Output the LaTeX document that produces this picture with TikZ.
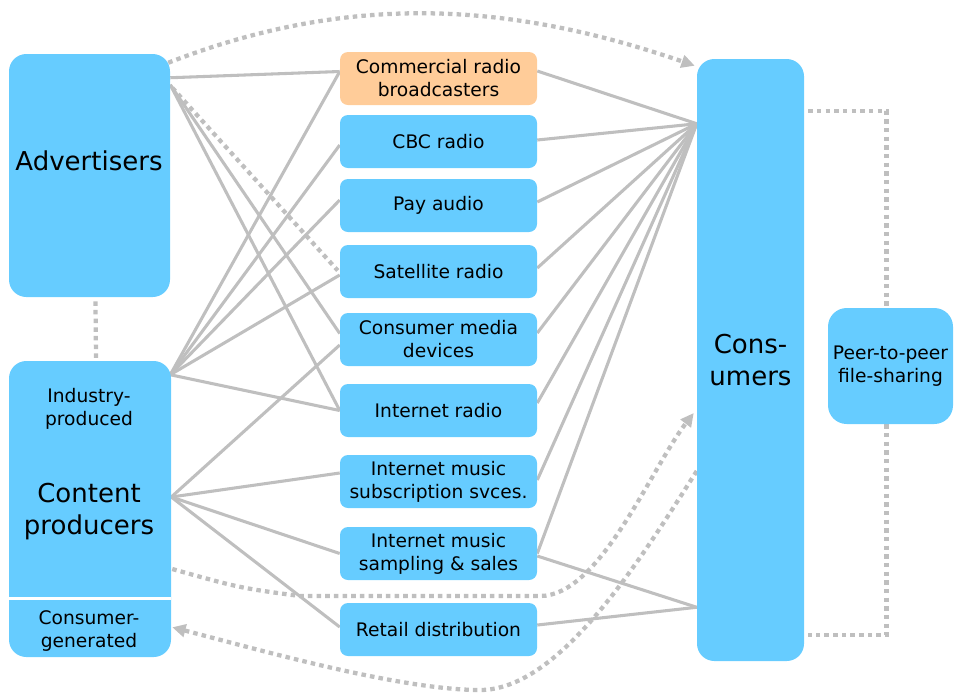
\documentclass[tikz,border=0pt]{standalone}
\usepackage{fontspec}
\setmainfont{DejaVu Sans}
\usetikzlibrary{arrows.meta,calc}
\definecolor{boxblue}{HTML}{66CCFF}
\definecolor{boxorange}{HTML}{FFCC99}
\definecolor{linegray}{HTML}{BFBFBF}
\pgfdeclarelayer{bg}
\pgfsetlayers{bg,main}
\begin{document}
\begin{tikzpicture}[x=0.75pt,y=-0.75pt,
  box/.style={fill=boxblue, draw=none, inner sep=1pt, align=center, font=\fontsize{14}{17.25}\selectfont},
  midbox/.style={box, minimum width=147.75pt, minimum height=39.75pt, rounded corners=6pt},
  bigbox/.style={box, rounded corners=13pt},
  bigtext/.style={align=center, font=\fontsize{19.5}{24}\selectfont, inner sep=0pt},
  smalltext/.style={align=center, font=\fontsize{14}{17.25}\selectfont, inner sep=0pt},
  conn/.style={draw=linegray, line width=2.3pt},
  dotconn/.style={draw=linegray, line width=3.2pt, dash pattern=on 3.4pt off 3.1pt},
  tip/.style={-{Triangle[length=10pt,width=9.5pt]}}
]
\useasboundingbox (0,0) rectangle (959,694);

% left boxes
\node[bigbox, minimum width=120.75pt, minimum height=182.25pt] (adv) at (89.5,175.5) {};
\node[bigtext] (advt) at (89,161) {Advertisers};
\node[bigbox, minimum width=121.5pt, minimum height=222pt] (cp) at (90,509) {};
\draw[white, line width=2.5pt] ($(cp.south west)+(0,-59)$) -- ($(cp.south east)+(0,-59)$);
\node[smalltext] (ind) at (89,409) {Industry-\\produced};
\node[bigtext] (cpt) at (89,512) {Content\\producers};
\node[smalltext] (cg) at (89,631) {Consumer-\\generated};

% middle boxes
\node[midbox, fill=boxorange] (cr) at (438.5,78.5) {Commercial radio\\broadcasters};
\node[midbox] (cbc) at (438.5,141.5) {CBC radio};
\node[midbox] (pay) at (438.5,205.5) {Pay audio};
\node[midbox] (sat) at (438.5,271.5) {Satellite radio};
\node[midbox] (cmd) at (438.5,339.5) {Consumer media\\devices};
\node[midbox] (ir) at (438.5,410.5) {Internet radio};
\node[midbox] (ims) at (438.5,481.5) {Internet music\\subscription svces.};
\node[midbox] (imsa) at (438.5,553.5) {Internet music\\sampling \& sales};
\node[midbox] (rd) at (438.5,629.5) {Retail distribution};

% right boxes
\node[bigbox, minimum width=80.25pt, minimum height=451.5pt, font=\fontsize{19.5}{24}\selectfont] (cons) at (750.5,360) {Cons-\\umers};
\node[bigbox, minimum width=93.75pt, minimum height=87pt, rounded corners=14pt] (p2p) at (890.5,366) {Peer-to-peer\\file-sharing};

\begin{pgfonlayer}{bg}
\coordinate (aA) at ($(adv.north east)+(0,24)$);
\coordinate (aB) at ($(adv.north east)+(0,31)$);
\coordinate (aC) at ($(adv.north east)+(2,34)$);
\coordinate (aD) at ($(adv.north east)+(-2,9)$);
\coordinate (cA) at ($(cp.north east)+(-1,14)$);
\coordinate (cB) at ($(cp.east)+(0,-12)$);
\coordinate (cC) at ($(cp.east)+(1,60)$);
\coordinate (cD) at ($(cp.south east)+(1,-30)$);
\coordinate (kA) at ($(cons.north west)+(0,65)$);
\coordinate (kB) at ($(cons.south west)+(0,-54)$);
\coordinate (kC) at ($(cons.west)+(-3,53)$);
\coordinate (kD) at ($(cons.west)+(0,111)$);
\coordinate (kE) at ($(cons.north west)+(-2,7)$);

% advertisers
\draw[conn] (aA) -- ($(cr.west)+(0,-7)$);
\draw[conn] (aB) -- ($(cmd.west)+(0,-6)$);
\draw[conn] (aB) -- (ir.west);
\draw[dotconn] (aC) -- ($(sat.west)+(-2,-1)$);

% content producers
\foreach \t/\dy in {cr/-7, cbc/3.5, pay/-5.5, sat/3.5, ir/0}
  \draw[conn] (cA) -- ($(\t.west)+(0,\dy)$);
\foreach \t/\dy in {cmd/5.5, ims/-8.5, imsa/0, rd/-2.5}
  \draw[conn] (cB) -- ($(\t.west)+(0,\dy)$);

% consumers
\foreach \t/\dy in {cr/-7.5, cbc/-1.5, pay/-3.5, sat/-3.5, cmd/-6.5, ir/-7.5, ims/-1.5, imsa/0}
  \draw[conn] ($(\t.east)+(0,\dy)$) -- (kA);
\draw[conn] ($(imsa.east)+(0,2.5)$) -- (kB);
\draw[conn] ($(rd.east)+(0,-4.5)$) -- (kB);

% dotted
\draw[dotconn, tip] (aD) .. controls (350,-8) and (510,2) .. (kE);
\draw[dotconn] ($(adv.south)+(6,4)$) -- ($(cp.north)+(6,-2)$);
\draw[dotconn, tip] (cC) .. controls (240,588) .. (300,596) -- (540,596) .. controls (600,596) and (650,470) .. (kC);
\draw[dotconn, tip] (kD) .. controls (640,560) and (560,690) .. (480,690) .. controls (400,690) and (260,650) .. (cD);
\draw[dotconn] ($(cons.north east)+(4,52)$) -| ($(p2p.north)+(-4,0)$);
\draw[dotconn] ($(p2p.south)+(-4,0)$) |- ($(cons.south east)+(4,-26)$);
\end{pgfonlayer}
\end{tikzpicture}
\end{document}
